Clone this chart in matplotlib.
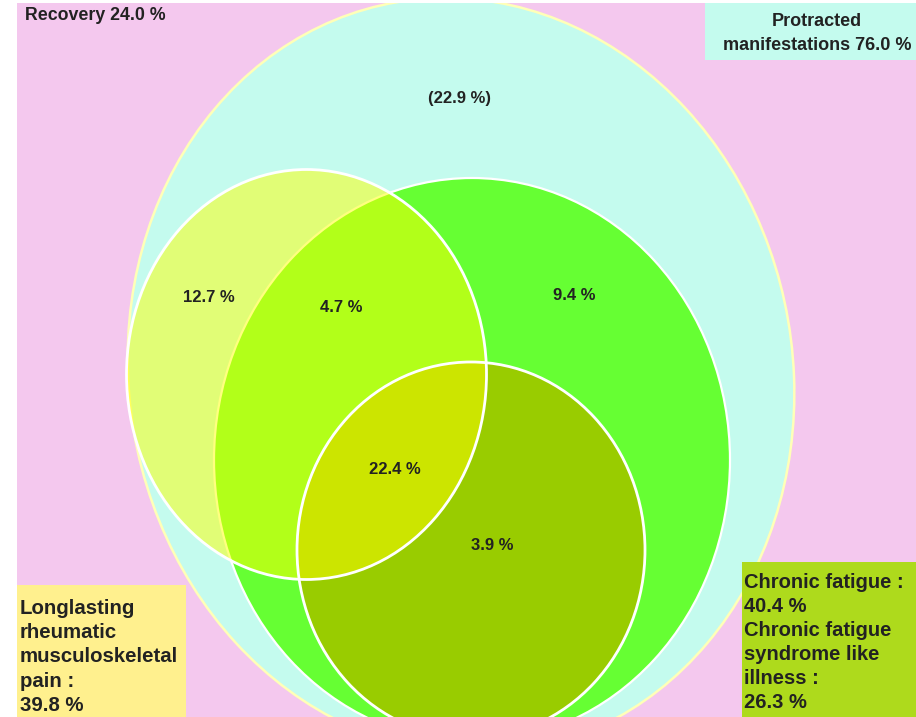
import numpy as np
import matplotlib
matplotlib.use("Agg")
import matplotlib.pyplot as plt
from matplotlib.patches import Circle, Rectangle
from matplotlib.transforms import Affine2D

# ---- data ----
recovery_pct = 24.0
protracted_pct = 76.0
pain_pct = 39.8
fatigue_pct = 40.4
cfs_pct = 26.3
region_names = ["protracted only", "pain only", "pain+fatigue", "fatigue only",
                "pain+fatigue+CFS", "fatigue+CFS"]
region_values = [22.9, 12.7, 4.7, 9.4, 22.4, 3.9]

# ---- style ----
PINK = "#F4C8EE"
CYAN = "#C4FBEE"
GREEN = "#66FF33"
OLIVE = "#99CC00"
YELLOW = "#FFFF00"
BOX_YELLOW = "#FFF08E"
BOX_OLIVE = "#AEDA1C"
TXT = "#222222"
FONT = ["Liberation Sans", "DejaVu Sans"]

fig = plt.figure(figsize=(9.16, 7.17), dpi=100, facecolor="white")
ax = fig.add_axes([17 / 916, 0, 899 / 916, 714 / 717])
ax.set_xlim(17, 916)
ax.set_ylim(717, 3)
ax.set_facecolor(PINK)
ax.set_xticks([]); ax.set_yticks([])
for s in ax.spines.values():
    s.set_visible(False)


def shape(cx, cy, w, h, shear=0.0, **kw):
    m = np.array([[w, shear * h, cx], [0, h, cy], [0, 0, 1.0]])
    tr = Affine2D(m) + ax.transData
    p = Circle((0, 0), 1, transform=tr, **kw)
    ax.add_patch(p)
    return p

# big "protracted manifestations" set
shape(461, 376, 333, 378, shear=0.04, facecolor=CYAN, edgecolor="#FFFFB8", lw=1.8, zorder=1)
# chronic fatigue
shape(472, 460, 258, 282, facecolor=GREEN, edgecolor="white", lw=1.6, zorder=2)
# CFS-like illness
shape(471, 550, 174, 188, facecolor=OLIVE, edgecolor="none", zorder=3)
# rheumatic pain (translucent)
shape(306.5, 374.5, 180, 205, facecolor=YELLOW, alpha=0.5, edgecolor="none", zorder=4)
# outlines on top
shape(306.5, 374.5, 180, 205, facecolor="none", edgecolor="white", lw=2.0, zorder=5)
shape(471, 550, 174, 188, facecolor="none", edgecolor="white", lw=2.0, zorder=5)

# region labels
region_pos = [(460, 98), (209, 297), (341, 307), (574, 295), (395, 470), (492, 545)]
for name, v, (x, y) in zip(region_names, region_values, region_pos):
    lab = f"({v:.1f} %)" if name == "protracted only" else f"{v:.1f} %"
    ax.text(x, y, lab, ha="center", va="center", fontsize=12, fontweight="bold",
            color=TXT, family=FONT, zorder=10)

# corner labels
ax.text(25, 16, f"Recovery {recovery_pct:.1f} %", ha="left", va="center",
        fontsize=12.8, fontweight="bold", color=TXT, family=FONT, zorder=10)

ax.add_patch(Rectangle((705, 3), 211, 57, facecolor=CYAN, edgecolor="none", zorder=8))
ax.text(817, 22, "Protracted", ha="center", va="center", fontsize=13,
        fontweight="bold", color=TXT, family=FONT, zorder=10)
ax.text(817, 45, f"manifestations {protracted_pct:.1f} %", ha="center", va="center",
        fontsize=13, fontweight="bold", color=TXT, family=FONT, zorder=10)

ax.add_patch(Rectangle((17, 585), 169, 132, facecolor=BOX_YELLOW, edgecolor="none", zorder=8))
pain_lines = ["Longlasting", "rheumatic", "musculoskeletal", "pain :", f"{pain_pct:.1f} %"]
for i, t in enumerate(pain_lines):
    ax.text(20, 608 + i * 24.4, t, ha="left", va="center", fontsize=14.7,
            fontweight="bold", color=TXT, family=FONT, zorder=10)

ax.add_patch(Rectangle((742, 562), 174, 155, facecolor=BOX_OLIVE, edgecolor="none", zorder=8))
fat_lines = ["Chronic fatigue :", f"{fatigue_pct:.1f} %", "Chronic fatigue",
             "syndrome like", "illness :", f"{cfs_pct:.1f} %"]
for i, t in enumerate(fat_lines):
    ax.text(744, 582 + i * 24.2, t, ha="left", va="center", fontsize=14.5,
            fontweight="bold", color=TXT, family=FONT, zorder=10)

fig.savefig("out.png", dpi=100, facecolor="white")
